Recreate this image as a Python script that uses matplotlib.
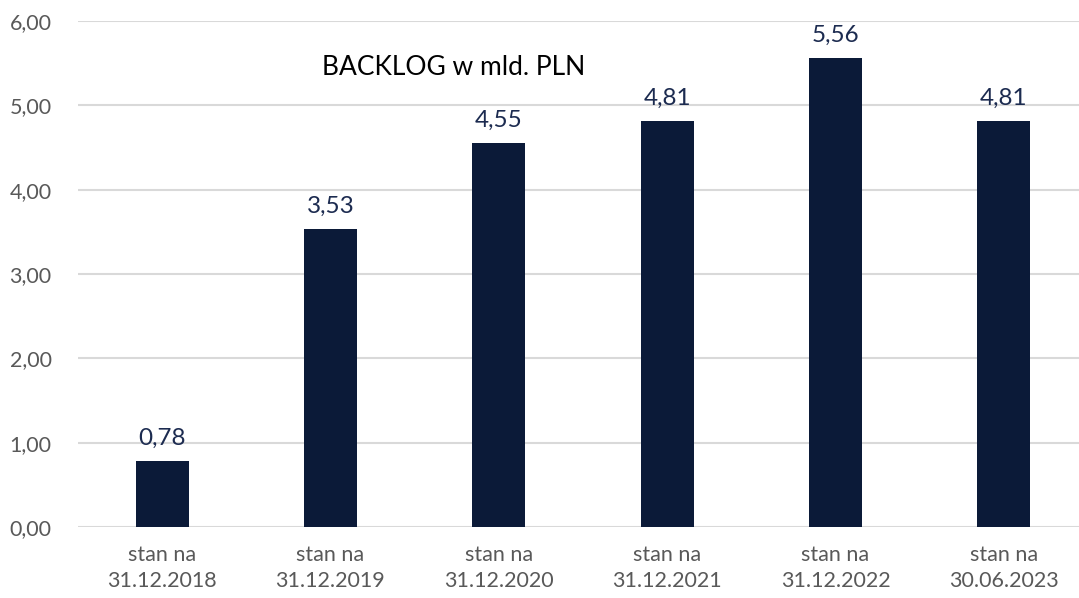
import matplotlib
matplotlib.use("Agg")
import matplotlib.pyplot as plt

categories = ["stan na\n31.12.2018", "stan na\n31.12.2019", "stan na\n31.12.2020",
              "stan na\n31.12.2021", "stan na\n31.12.2022", "stan na\n30.06.2023"]
values = [0.78, 3.53, 4.55, 4.81, 5.56, 4.81]
yticks = [0, 1, 2, 3, 4, 5, 6]

plt.rcParams['font.family'] = ['Lato', 'DejaVu Sans']

fig = plt.figure(figsize=(10.79, 5.98), dpi=100)
ax = fig.add_axes([78 / 1079, 1 - 527 / 598, 1 - 78 / 1079, 506 / 598])

x = range(len(categories))
ax.bar(x, values, width=0.315, color="#0b1a38", zorder=3)
for i, v in zip(x, values):
    ax.text(i, v + 0.15, f"{v:.2f}".replace(".", ","), ha="center", va="bottom",
            fontsize=17.5, color="#1c2b50")

ax.set_ylim(0, 6)
ax.set_xlim(-0.5, 5.447)
ax.set_yticks(yticks)
ax.set_yticklabels([f"{t:.2f}".replace(".", ",") for t in yticks])
ax.set_xticks(list(x))
ax.set_xticklabels(categories, linespacing=1.35)
ax.tick_params(axis="both", length=0, labelsize=15.5, labelcolor="#595959")
ax.tick_params(axis="y", pad=19)
ax.tick_params(axis="x", pad=13)
ax.grid(axis="y", color="#d9d9d9", linewidth=1.5, zorder=0)
for s in ax.spines.values():
    s.set_visible(False)

ax.text(1.73, 5.45, "BACKLOG w mld. PLN", ha="center", va="center", fontsize=19, color="black")

fig.savefig("out.png", dpi=100)
